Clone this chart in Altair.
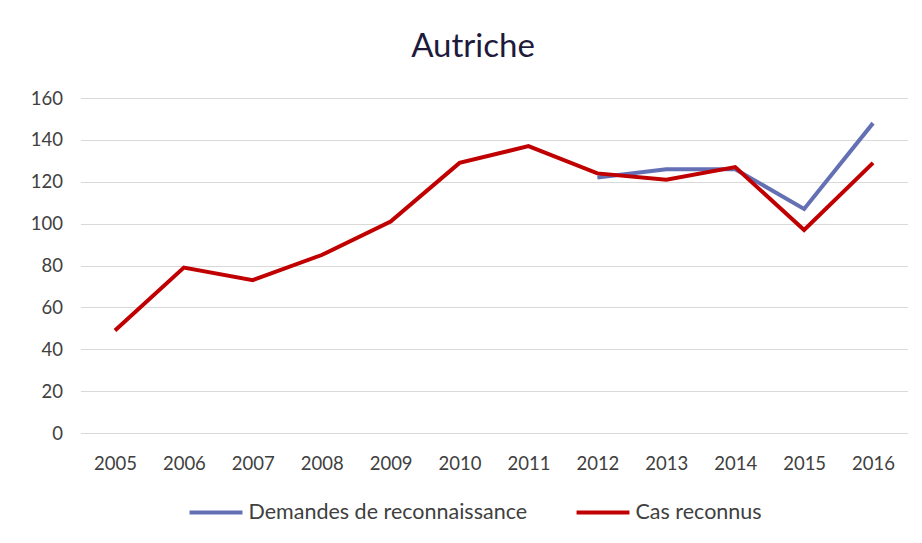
import altair as alt
import pandas as pd

years = [str(y) for y in range(2005, 2017)]
cas_reconnus = [49, 79, 73, 85, 101, 129, 137, 124, 121, 127, 97, 129]
demandes_years = ["2012", "2013", "2014", "2015", "2016"]
demandes = [122, 126, 126, 107, 148]

S1 = "Demandes de reconnaissance"
S2 = "Cas reconnus"

rows = [{"annee": y, "valeur": v, "serie": S1} for y, v in zip(demandes_years, demandes)]
rows += [{"annee": y, "valeur": v, "serie": S2} for y, v in zip(years, cas_reconnus)]
df = pd.DataFrame(rows)

FONT = "Lato"
TXT = "#404040"

lines = alt.Chart(df).mark_line(strokeWidth=4).encode(
    x=alt.X("annee:N", sort=years, scale=alt.Scale(domain=years, paddingInner=0, paddingOuter=0.5),
            axis=alt.Axis(title=None, labelAngle=0, labelFontSize=18.5, labelColor=TXT, labelFont=FONT,
                          ticks=False, domain=True, domainColor="#d9d9d9", labelPadding=21, grid=False)),
    y=alt.Y("valeur:Q", scale=alt.Scale(domain=[0, 160]),
            axis=alt.Axis(title=None, values=list(range(0, 161, 20)), labelFontSize=18.5, labelColor=TXT,
                          labelFont=FONT, ticks=False, domain=False, labelPadding=18,
                          grid=True, gridColor="#d9d9d9", gridWidth=1.2)),
    color=alt.Color("serie:N", scale=alt.Scale(domain=[S1, S2], range=["#6470b4", "#c00000"]),
                    legend=alt.Legend(title=None, orient="none", legendX=107, legendY=386,
                                      direction="horizontal", symbolType="stroke", symbolSize=2800,
                                      symbolStrokeWidth=4, labelFontSize=21.5, labelColor=TXT,
                                      labelFont=FONT, labelOffset=4, columnPadding=41,
                                      labelLimit=400)),
    order=alt.Order("annee:N"),
)

chart = lines.properties(
    width=827, height=335,
    padding={"left": 72.5, "top": 90, "right": 6, "bottom": 100},
    autosize=alt.AutoSizeParams(type="none"),
    title=alt.TitleParams("Autriche", fontSize=33, font=FONT, fontWeight="normal", color="#1e1a3c",
                          anchor="middle", dx=-21, offset=25),
).configure_view(stroke=None)

chart.save("out.html", embed_options={"renderer": "svg", "actions": False})
